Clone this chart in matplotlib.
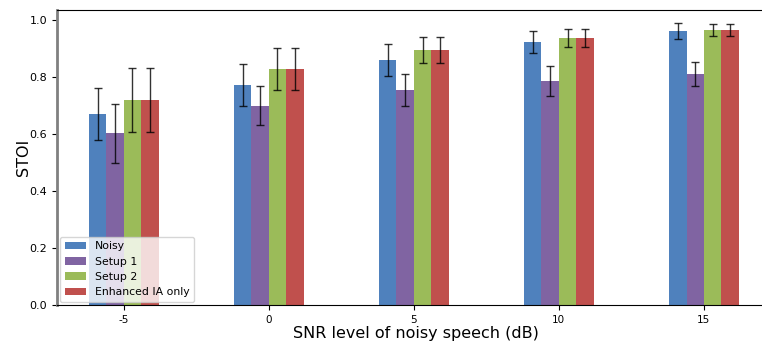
import numpy as np
import matplotlib
matplotlib.use('Agg')
import matplotlib.pyplot as plt

snr = [-5, 0, 5, 10, 15]
labels = ['Noisy', 'Setup 1', 'Setup 2', 'Enhanced IA only']
colors = ['#4F81BD', '#8064A2', '#9BBB59', '#C0504D']

noisy = [0.67, 0.772, 0.86, 0.923, 0.961]
noisy_err = [0.09, 0.074, 0.056, 0.038, 0.027]
setup1 = [0.603, 0.70, 0.754, 0.786, 0.81]
setup1_err = [0.103, 0.07, 0.057, 0.053, 0.043]
setup2 = [0.72, 0.828, 0.895, 0.937, 0.965]
setup2_err = [0.112, 0.075, 0.046, 0.03, 0.021]
enhanced = [0.72, 0.828, 0.895, 0.937, 0.965]
enhanced_err = [0.112, 0.075, 0.046, 0.03, 0.021]

values = [noisy, setup1, setup2, enhanced]
errors = [noisy_err, setup1_err, setup2_err, enhanced_err]

fig = plt.figure(figsize=(7.62, 3.49), dpi=100)
W, H = 762.0, 349.0
ax = fig.add_axes([57 / W, (H - 305) / H, (775 - 57) / W, (305 - 9.5) / H])

w = 0.6
x = np.array(snr, dtype=float)
for i, (v, e) in enumerate(zip(values, errors)):
    ax.bar(x + (i - 1.5) * w, v, w, yerr=e, color=colors[i], label=labels[i],
           error_kw=dict(ecolor='black', elinewidth=1, capsize=3, capthick=1, alpha=0.8))

ax.set_xlim(-7.3, 17.45)
ax.set_ylim(0, 1.037)
ax.set_xticks(snr)
ax.set_xticklabels([str(s) for s in snr], fontsize=7.5)
ax.set_yticks([0.0, 0.2, 0.4, 0.6, 0.8, 1.0])
ax.set_yticklabels(['0.0', '0.2', '0.4', '0.6', '0.8', '1.0'], fontsize=8)
ax.spines['left'].set_color('#808080')
ax.spines['left'].set_linewidth(2)
ax.spines['right'].set_visible(False)
ax.set_xlabel('SNR level of noisy speech (dB)', fontsize=11.5, labelpad=1)
ax.set_ylabel('STOI', fontsize=11.5, labelpad=-1)
ax.legend(loc='lower left', fontsize=7.8, framealpha=0.8, borderaxespad=0.3)

fig.savefig('out.png', dpi=100)
